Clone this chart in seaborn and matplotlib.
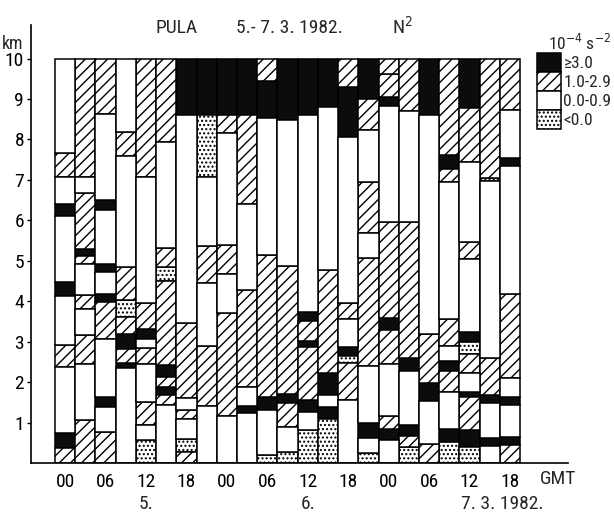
import numpy as np
import pandas as pd
import matplotlib
matplotlib.use("Agg")
import matplotlib.pyplot as plt
import seaborn as sns
from matplotlib.patches import Patch

# ---------------- data ----------------
# categories: B = >=3.0, H = 1.0-2.9, W = 0.0-0.9, D = <0.0   (10^-4 s^-2)
# each column: list of (segment top [km], category), from the ground up
col_01 = [(0.36, 'H'), (0.73, 'B'), (2.37, 'W'), (2.92, 'H'), (4.13, 'W'), (4.47, 'B'), (6.11, 'W'), (6.40, 'B'), (7.06, 'W'), (7.67, 'H'), (10.0, 'W')]
col_02 = [(1.06, 'H'), (2.46, 'W'), (3.16, 'H'), (3.82, 'W'), (4.15, 'H'), (4.92, 'W'), (5.12, 'H'), (5.28, 'B'), (6.68, 'H'), (7.06, 'W'), (10.0, 'H')]
col_03 = [(0.77, 'H'), (1.39, 'W'), (1.64, 'B'), (3.06, 'W'), (3.97, 'H'), (4.17, 'B'), (4.73, 'W'), (4.92, 'B'), (6.25, 'W'), (6.50, 'B'), (8.64, 'W'), (10.0, 'H')]
col_04 = [(2.34, 'W'), (2.48, 'B'), (2.81, 'H'), (3.18, 'B'), (3.62, 'H'), (4.03, 'D'), (4.84, 'H'), (7.59, 'W'), (8.19, 'H'), (10.0, 'W')]
col_05 = [(0.57, 'D'), (0.94, 'W'), (1.50, 'H'), (2.46, 'W'), (2.85, 'H'), (3.06, 'W'), (3.31, 'B'), (3.95, 'H'), (7.06, 'W'), (10.0, 'H')]
col_06 = [(1.43, 'W'), (1.68, 'H'), (1.89, 'B'), (2.13, 'H'), (2.42, 'B'), (4.50, 'H'), (4.85, 'D'), (5.31, 'H'), (7.94, 'W'), (10.0, 'H')]
col_07 = [(0.28, 'H'), (0.59, 'D'), (1.10, 'W'), (1.31, 'H'), (1.60, 'W'), (3.45, 'H'), (8.60, 'W'), (10.0, 'B')]
col_08 = [(1.42, 'W'), (2.89, 'H'), (4.44, 'W'), (5.37, 'H'), (7.08, 'W'), (8.60, 'D'), (10.0, 'B')]
col_09 = [(1.17, 'W'), (3.72, 'H'), (4.67, 'W'), (5.39, 'H'), (8.17, 'W'), (8.60, 'H'), (10.0, 'B')]
col_10 = [(1.24, 'W'), (1.41, 'B'), (1.89, 'W'), (4.28, 'H'), (6.40, 'W'), (8.60, 'H'), (10.0, 'B')]
col_11 = [(0.20, 'D'), (1.31, 'W'), (1.64, 'B'), (5.14, 'H'), (8.52, 'W'), (9.45, 'B'), (10.0, 'H')]
col_12 = [(0.28, 'D'), (0.90, 'W'), (1.48, 'H'), (1.71, 'B'), (4.87, 'H'), (8.48, 'W'), (10.0, 'B')]
col_13 = [(0.82, 'D'), (1.27, 'W'), (1.57, 'B'), (2.86, 'H'), (3.02, 'B'), (3.52, 'H'), (3.74, 'B'), (8.60, 'W'), (10.0, 'B')]
col_14 = [(1.10, 'D'), (1.39, 'B'), (1.68, 'W'), (2.23, 'B'), (4.77, 'H'), (8.81, 'W'), (10.0, 'B')]
col_15 = [(1.57, 'W'), (2.48, 'H'), (2.65, 'D'), (2.88, 'B'), (3.56, 'W'), (3.96, 'H'), (8.05, 'W'), (9.29, 'B'), (10.0, 'H')]
col_16 = [(0.24, 'D'), (0.61, 'W'), (0.98, 'B'), (2.40, 'W'), (5.06, 'H'), (5.69, 'W'), (6.95, 'H'), (8.23, 'W'), (8.99, 'H'), (10.0, 'B')]
col_17 = [(0.57, 'W'), (0.84, 'B'), (1.17, 'H'), (2.46, 'W'), (3.29, 'H'), (3.58, 'B'), (5.97, 'H'), (8.83, 'W'), (9.06, 'B'), (9.62, 'H'), (10.0, 'H')]
col_18 = [(0.40, 'D'), (0.67, 'H'), (0.94, 'B'), (2.28, 'W'), (2.59, 'B'), (5.97, 'H'), (8.71, 'W'), (10.0, 'H')]
col_19 = [(0.46, 'H'), (1.54, 'W'), (1.99, 'B'), (3.18, 'H'), (8.60, 'W'), (10.0, 'B')]
col_20 = [(0.53, 'D'), (0.83, 'B'), (1.76, 'W'), (2.28, 'H'), (2.52, 'B'), (2.90, 'W'), (3.55, 'H'), (6.94, 'W'), (7.28, 'H'), (7.61, 'B'), (10.0, 'H')]
col_21 = [(0.40, 'D'), (0.82, 'B'), (1.62, 'H'), (1.76, 'B'), (2.22, 'W'), (2.69, 'H'), (3.00, 'D'), (3.25, 'B'), (5.04, 'W'), (5.47, 'H'), (7.45, 'W'), (8.79, 'H'), (10.0, 'B')]
col_22 = [(0.42, 'W'), (0.63, 'B'), (1.49, 'W'), (1.68, 'B'), (2.59, 'H'), (6.98, 'W'), (7.04, 'D'), (10.0, 'H')]
col_23 = [(0.45, 'H'), (0.65, 'B'), (1.43, 'W'), (1.64, 'B'), (2.09, 'W'), (4.18, 'H'), (7.34, 'W'), (7.53, 'B'), (8.74, 'W'), (10.0, 'H')]

columns = [col_01, col_02, col_03, col_04, col_05, col_06, col_07, col_08, col_09, col_10,
           col_11, col_12, col_13, col_14, col_15, col_16, col_17, col_18, col_19, col_20,
           col_21, col_22, col_23]

hour_ticks = ["00", "06", "12", "18", "00", "06", "12", "18", "00", "06", "12", "18"]
day_labels = ["5.", "6.", "7. 3. 1982."]
y_ticks = [1, 2, 3, 4, 5, 6, 7, 8, 9, 10]

legend_cats = ['B', 'H', 'W', 'D']
legend_labels = ["\u22653.0", "1.0-2.9", "0.0-0.9", "<0.0"]

# ---------------- build table ----------------
rows = []
for i, col in enumerate(columns):
    bottom = 0.0
    for top, cat in col:
        rows.append(dict(x=i, bottom=bottom, height=top - bottom, cat=cat))
        bottom = top
df = pd.DataFrame(rows)

style = {
    'B': dict(color='#0c0c0c', hatch=None),
    'H': dict(color='white', hatch='///'),
    'W': dict(color='white', hatch=None),
    'D': dict(color='white', hatch='....'),
}

# ---------------- figure ----------------
sns.set_style("ticks")
plt.rcParams['font.family'] = ['DejaVu Sans Condensed', 'Roboto Condensed',
                               'Liberation Sans Narrow', 'DejaVu Sans']
plt.rcParams['font.stretch'] = 'condensed'
plt.rcParams['hatch.linewidth'] = 1.0
plt.rcParams['hatch.color'] = 'black'

fig = plt.figure(figsize=(6.14, 5.12), dpi=100)
ax = fig.add_axes([31 / 614, 1 - 463 / 512, (568 - 31) / 614, (463 - 25) / 512])

for cat, sub in df.groupby('cat'):
    st = style[cat]
    ax.bar(sub['x'], sub['height'], bottom=sub['bottom'], width=1.0,
           color=st['color'], hatch=st['hatch'], edgecolor='black', linewidth=1.1,
           zorder=2)

ax.set_xlim(-1.69, 24.87)
ax.set_ylim(0, 10.83)
sns.despine(ax=ax)
for s in ['left', 'bottom']:
    ax.spines[s].set_linewidth(1.2)
    ax.spines[s].set_color('black')

ax.set_yticks(y_ticks)
ax.set_yticklabels([str(v) for v in y_ticks], fontsize=14)
ax.tick_params(axis='y', direction='out', length=3, width=1.0, pad=2, colors='black')
ax.set_xticks(np.arange(0, 23, 2))
ax.set_xticklabels(hour_ticks, fontsize=14)
ax.tick_params(axis='x', length=0, pad=7, colors='black')

ax.text(24.4, -0.4, "GMT", ha='center', va='center', fontsize=14, clip_on=False)
for lab, xpos in zip(day_labels, [4, 12, 21.6]):
    ax.text(xpos, -1.02, lab, ha='center', va='center', fontsize=14, clip_on=False)

fig.text(13 / 614, 1 - 44 / 512, "km", ha='center', va='center', fontsize=13)

fig.text(177 / 614, 1 - 28 / 512, "PULA", ha='center', va='center', fontsize=14)
fig.text(289 / 614, 1 - 28 / 512, "5.- 7. 3. 1982.", ha='center', va='center', fontsize=14)
fig.text(402 / 614, 1 - 27 / 512, "N$^2$", ha='center', va='center', fontsize=14)

handles = [Patch(facecolor=style[c]['color'], hatch=style[c]['hatch'], edgecolor='black',
                 linewidth=1.1) for c in legend_cats]
leg = fig.legend(handles, legend_labels, title="10$^{-4}$ s$^{-2}$",
                 loc='upper left', bbox_to_anchor=(537 / 614, 1 - 33 / 512),
                 frameon=False, fontsize=12.5, title_fontsize=12.5,
                 handlelength=1.4, handleheight=1.3, labelspacing=0.0,
                 handletextpad=0.12, borderpad=0.0, borderaxespad=0.0,
                 alignment='right')

fig.savefig("out.png", dpi=100)
